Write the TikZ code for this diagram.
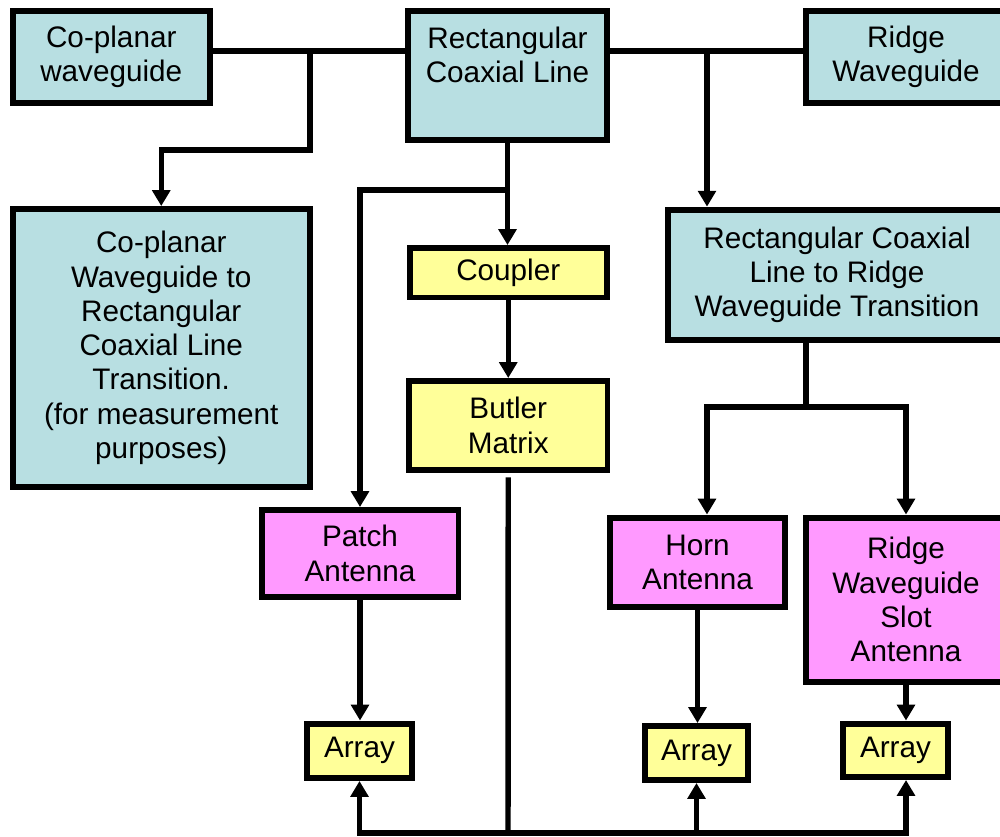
\documentclass[tikz,border=0pt]{standalone}
\usepackage{fontspec}
\setmainfont{Liberation Sans}
\usetikzlibrary{arrows.meta}
\definecolor{boxteal}{RGB}{184,223,226}
\definecolor{boxyellow}{RGB}{255,255,153}
\definecolor{boxpink}{RGB}{255,153,255}

\begin{document}
\begin{tikzpicture}[x=0.02cm,y=-0.02cm,
  lbl/.style={inner sep=0pt,align=center,font=\fontsize{16.9pt}{19.5pt}\selectfont},
  box/.style={lbl,draw,line width=3.4pt},
  tbox/.style={box,fill=boxteal},
  ybox/.style={box,fill=boxyellow},
  pbox/.style={box,fill=boxpink},
  conn/.style={line width=3.1pt},
  arr/.style={conn,-{Triangle[width=10pt,length=9pt]}}]

\useasboundingbox (0,0) rectangle (1000,836);

% top row
\node[tbox,minimum width=3.95cm,minimum height=1.84cm] (cpw) at (111.25,57) {Co-planar\\waveguide};
\node[tbox,minimum width=3.98cm,minimum height=2.58cm] (rcl) at (507.5,75.5) {};
\node[lbl] (rcltxt) at (507.5,55) {Rectangular\\Coaxial Line};
\node[tbox,minimum width=4cm,minimum height=1.84cm] (rwg) at (906,57) {Ridge\\Waveguide};

% transitions
\node[tbox,minimum width=5.95cm,minimum height=5.56cm] (cpwt) at (161.25,348) {Co-planar\\Waveguide to\\Rectangular\\Coaxial Line\\Transition.\\(for measurement\\purposes)};
\node[tbox,minimum width=6.76cm,minimum height=2.6cm] (rct) at (837,274.6) {Rectangular Coaxial\\Line to Ridge\\Waveguide Transition};

% feed network
\node[ybox,minimum width=3.95cm,minimum height=0.99cm] (coupler) at (508.25,272.75) {Coupler};
\node[ybox,minimum width=3.97cm,minimum height=1.78cm] (butler) at (508.25,425.5) {Butler\\Matrix};

% antennas
\node[pbox,minimum width=3.94cm,minimum height=1.74cm] (patch) at (360,553.5) {Patch\\Antenna};
\node[pbox,minimum width=3.5cm,minimum height=1.79cm] (horn) at (697.5,562.25) {Horn\\Antenna};
\node[pbox,minimum width=4cm,minimum height=3.29cm] (rwsa) at (906,599.75) {Ridge\\Waveguide\\Slot\\Antenna};

% arrays
\node[ybox,minimum width=2.1cm,minimum height=1.09cm] (arr1) at (359.5,750.75) {Array};
\node[ybox,minimum width=2.06cm,minimum height=1.08cm] (arr2) at (696.5,753) {Array};
\node[ybox,minimum width=2.1cm,minimum height=1.07cm] (arr3) at (895.5,750.25) {Array};

% junctions
\coordinate (topbus) at (0,51);
\coordinate (lj) at (310,51);
\coordinate (rj) at (707,51);
\coordinate (mj) at (508,190);
\coordinate (sj) at (806,407);
\coordinate (bus) at (508,833);
\coordinate (bstart) at ([yshift=-2.5pt]butler.south);

\draw[conn] (cpw.east |- topbus) -- (rcl.west |- topbus);
\draw[conn] (rcl.east |- topbus) -- (rwg.west |- topbus);
\draw[arr] (lj) -- (lj |- 0,150) -| (cpwt.north);
\draw[arr] (rj) -- (rj |- rct.north);

\draw[arr] (rcl.south) -- (rcl.south |- coupler.north);
\draw[arr] (mj) -| (patch.north);
\draw[arr] (coupler.south) -- (butler.north);

\draw[conn] (sj |- rct.south) -- (sj);
\draw[arr] (sj) -| (rj |- horn.north);
\draw[arr] (sj) -| (rwsa.north);

\draw[arr] (patch.south) -- (patch.south |- arr1.north);
\draw[arr] (horn.south) -- (horn.south |- arr2.north);
\draw[arr] (rwsa.south) -- (rwsa.south |- arr3.north);

\draw[conn] (bstart) -- (bus);
\draw[arr] (bus) -| (arr1.south);
\draw[arr] (bus) -| (arr2.south);
\draw[arr] (bus) -| (rwsa.south |- arr3.south);
\end{tikzpicture}
\end{document}
